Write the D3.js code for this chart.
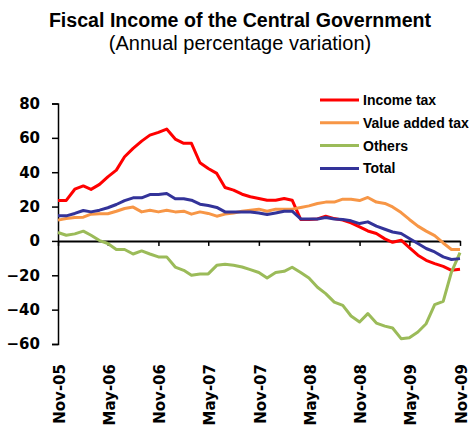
<!DOCTYPE html>
<html><head><meta charset="utf-8">
<script src="https://cdn.jsdelivr.net/npm/d3@7"></script>
<style>html,body{margin:0;padding:0;background:#fff;overflow:hidden}</style>
</head><body>
<svg id="c" width="470" height="426"></svg>
<script>
const startMonth = "2005-11";
const endMonth = "2009-11";
const seriesNames = ["Income tax", "Value added tax", "Others", "Total"];
const incomeTax = [23.5,23.6,30.1,32,30,32.9,37.3,41.2,49,53.9,58.1,61.6,63.2,65.1,59.3,56.8,56.8,45.5,42.2,39.3,31.1,29.6,27.2,25.7,24.7,23.7,23.7,24.7,23.7,12.5,12.5,12.8,14.4,13,12.1,10.5,8.2,5.8,4.3,1.2,-0.8,0.4,-3.9,-8.3,-11.3,-13.2,-14.8,-17.1,-16.5];
const valueAddedTax = [12.1,13,13.6,13.8,15.6,15.8,15.8,17.3,18.9,19.7,16.9,17.9,16.9,17.9,16.9,17.3,15.6,16.9,16,14.4,15.6,16.3,17.3,17.9,18.5,17.3,18.5,18.5,18.5,19.5,20.4,21.8,22.6,22.6,24.3,24.3,23.5,25.3,22.6,21.8,19.8,16.5,12.5,8.6,5.7,3.1,-1.2,-5,-5];
const others = [4.9,3.3,4.1,5.7,3.3,0.2,-1.5,-5,-5,-7.6,-5.8,-7.6,-9.3,-9.3,-15.2,-17.1,-20,-19.2,-19.2,-14.2,-13.6,-14.2,-15.2,-16.7,-18.4,-21.6,-18.4,-17.7,-15.3,-18.4,-21.6,-27,-30.7,-35.6,-37.5,-43.7,-47.2,-42.3,-47.8,-49.6,-50.7,-56.9,-56.3,-53,-48.2,-37.1,-35.2,-18.1,-6.8];
const total = [14.6,14.6,16,17.7,16.9,17.9,19.3,21.2,23.5,25.1,25.1,27,27,27.6,24.6,24.6,23.7,21.4,20.6,19.5,16.9,16.9,16.9,16.9,16.3,15.4,16.3,17.3,17.3,12.8,12.8,12.8,13.6,12.8,12.5,11.7,10.1,11.1,8.6,6.8,5.2,4.3,1.4,-1.5,-4.4,-6.4,-9.3,-10.8,-10.3];
const yTicks = [80,60,40,20,0,-20,-40,-60];
const xTickLabels = ["Nov-05","May-06","Nov-06","May-07","Nov-07","May-08","Nov-08","May-09","Nov-09"];
const colors = ["#FF0000", "#F79646", "#9BBB59", "#333399"];

const parse = d3.timeParse("%Y-%m");
const t0 = parse(startMonth), t1 = parse(endMonth);
const months = d3.timeMonth.range(t0, d3.timeMonth.offset(t1, 1));
const xTickDates = d3.timeMonth.range(t0, d3.timeMonth.offset(t1, 1), 6);
const allSeries = [incomeTax, valueAddedTax, others, total];

const svg = d3.select("#c");
const x = d3.scaleTime().domain([t0, t1]).range([58, 460]);
const y = d3.scaleLinear().domain([-60, 80]).range([344, 103.5]);

// title
svg.append("text").attr("x", 240).attr("y", 27).attr("text-anchor", "middle")
  .style("font-family", "Liberation Sans, Arial, sans-serif").style("font-weight", "bold").style("font-size", "19.6px")
  .text("Fiscal Income of the Central Government");
svg.append("text").attr("x", 240).attr("y", 50).attr("text-anchor", "middle")
  .style("font-family", "Liberation Sans, Arial, sans-serif").style("font-size", "20px")
  .text("(Annual percentage variation)");

// y axis
const yAxis = svg.append("g").attr("transform", "translate(58,0)")
  .call(d3.axisLeft(y).tickValues(yTicks).tickSize(6).tickPadding(12).tickFormat(d3.format("d")));
yAxis.select(".domain").attr("stroke", "#000").attr("stroke-width", 1.5);
yAxis.selectAll(".tick line").attr("stroke", "#000").attr("stroke-width", 1.5);
yAxis.selectAll("text").style("font-family", "DejaVu Sans, Verdana, sans-serif").style("font-weight", "bold").style("font-size", "15px").attr("fill", "#000");

// x axis at zero
const xAxis = svg.append("g").attr("transform", `translate(0,${y(0)})`)
  .call(d3.axisBottom(x).tickValues(xTickDates).tickSize(5).tickSizeOuter(0).tickFormat(() => ""));
xAxis.select(".domain").attr("stroke", "#000").attr("stroke-width", 2);
xAxis.selectAll(".tick line").attr("stroke", "#000").attr("stroke-width", 1.5);

// x labels at the bottom
svg.append("g").selectAll("text").data(xTickDates).join("text")
  .attr("transform", d => `translate(${x(d) + 1.5},364) rotate(-90)`)
  .attr("text-anchor", "end").attr("dy", "0.36em")
  .style("font-family", "DejaVu Sans, Verdana, sans-serif").style("font-weight", "bold").style("font-size", "15px")
  .text((d, i) => xTickLabels[i]);

// lines
const line = d3.line().x((d, i) => x(months[i])).y(d => y(d));
allSeries.forEach((s, k) => {
  svg.append("path").datum(s).attr("d", line).attr("fill", "none")
    .attr("stroke", colors[k]).attr("stroke-width", 3).attr("stroke-linejoin", "round");
});

// legend
const lg = svg.append("g");
seriesNames.forEach((n, k) => {
  const yy = 100 + k * 22.8;
  lg.append("line").attr("x1", 320).attr("x2", 359).attr("y1", yy).attr("y2", yy)
    .attr("stroke", colors[k]).attr("stroke-width", 3);
  lg.append("text").attr("x", 363).attr("y", yy).attr("dy", "0.35em")
    .style("font-family", "Liberation Sans, Arial, sans-serif").style("font-weight", "bold").style("font-size", "14px")
    .text(n);
});
</script>
</body></html>
